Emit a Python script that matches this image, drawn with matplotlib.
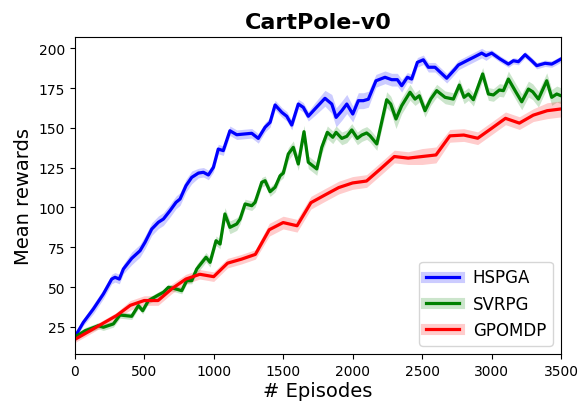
import numpy as np
import matplotlib
matplotlib.use("Agg")
from matplotlib import pyplot as plt
from matplotlib.lines import Line2D

# values
hspga_x = [0, 62, 134, 206, 266, 290, 321, 350, 410, 470, 506, 554, 602, 638, 686, 729, 758,
           801, 842, 890, 926, 962, 998, 1033, 1069, 1117, 1166, 1213, 1274, 1321, 1370, 1406,
           1442, 1490, 1526, 1562, 1609, 1645, 1681, 1729, 1801, 1850, 1881, 1922, 1958, 2001,
           2041, 2077, 2113, 2168, 2233, 2281, 2322, 2353, 2394, 2425, 2466, 2509, 2545, 2593,
           2677, 2737, 2761, 2821, 2869, 2929, 2960, 3001, 3061, 3121, 3157, 3193, 3241, 3289,
           3325, 3385, 3433, 3457, 3500]
hspga_y = [18.5, 27.8, 36.2, 45.6, 55.0, 56.1, 55.0, 61.3, 68.0, 72.8, 78.1, 86.4, 90.7, 92.7,
           98.0, 103.2, 105.3, 113.7, 118.9, 121.6, 122.1, 120.4, 125.2, 136.7, 135.7, 148.2,
           145.7, 146.1, 146.6, 143.4, 150.4, 153.5, 164.4, 159.8, 157.3, 151.8, 165.0, 162.9,
           157.3, 161.9, 168.6, 165.0, 156.6, 160.8, 165.0, 158.7, 167.1, 167.1, 168.0, 179.6,
           181.8, 180.3, 180.3, 176.5, 181.8, 180.7, 191.2, 192.8, 188.1, 188.1, 181.2, 187.0,
           189.5, 192.2, 194.3, 197.0, 195.4, 197.0, 193.3, 190.1, 192.2, 191.6, 196.0, 192.2,
           189.1, 190.6, 190.1, 191.2, 193.3]
hspga_sd = [2, 2, 3, 3, 3, 3, 3, 3, 4, 4, 4, 4, 4, 4, 4, 4, 4,
            4, 4, 3, 3, 3, 3, 3, 3, 3, 3, 3, 3, 3, 3, 3,
            3, 3, 3, 3, 3, 3, 3, 4, 5, 6, 6, 6, 6, 5,
            5, 5, 5, 4, 4, 4, 4, 4, 3, 3, 3, 3, 3, 3,
            3, 3, 3, 3, 3, 3, 3, 2, 2, 2, 2, 2, 2, 2,
            2, 2, 2, 2, 2]

svrpg_x = [0, 74, 170, 206, 278, 326, 410, 458, 489, 530, 602, 638, 674, 710, 770, 806, 842,
           878, 945, 974, 1017, 1046, 1081, 1117, 1166, 1190, 1226, 1274, 1298, 1346, 1370,
           1406, 1442, 1478, 1501, 1537, 1573, 1609, 1650, 1681, 1742, 1778, 1818, 1857, 1881,
           1922, 1958, 1994, 2034, 2066, 2101, 2125, 2174, 2245, 2274, 2312, 2353, 2413, 2449,
           2480, 2521, 2562, 2605, 2665, 2725, 2768, 2802, 2833, 2869, 2936, 2977, 3013, 3056,
           3085, 3121, 3176, 3217, 3265, 3296, 3337, 3397, 3433, 3469, 3500]
svrpg_y = [18.5, 22.5, 25.7, 24.7, 26.8, 32.4, 31.6, 38.3, 35.1, 41.4, 45.0, 46.7, 49.8, 49.2,
           47.7, 54.0, 54.0, 61.3, 68.7, 65.5, 79.1, 77.0, 95.9, 87.5, 89.6, 92.7, 102.2, 101.1,
           103.2, 115.8, 116.8, 109.9, 112.7, 119.9, 121.6, 133.6, 137.8, 127.3, 147.6, 128.4,
           124.2, 137.8, 147.2, 144.1, 147.2, 143.4, 144.7, 148.7, 143.4, 145.5, 146.8, 145.1,
           139.9, 167.7, 165.0, 155.6, 163.9, 172.4, 168.1, 170.2, 160.8, 168.1, 173.4, 169.2,
           168.1, 176.9, 169.2, 171.3, 167.7, 183.9, 171.3, 170.7, 173.8, 173.4, 180.7, 172.4,
           166.4, 174.4, 172.7, 168.1, 179.6, 169.2, 171.3, 170.2]
svrpg_sd = [1, 2, 2, 2, 2, 2, 2, 2, 2, 2, 2, 2, 2, 2, 2, 2, 2,
            3, 3, 3, 3, 3, 4, 4, 4, 3, 3, 3, 3, 3, 3,
            3, 3, 3, 3, 4, 4, 4, 4, 4, 4, 4, 4, 4, 4,
            4, 4, 4, 4, 4, 4, 4, 4, 5, 5, 6, 5, 5, 4,
            4, 4, 4, 4, 4, 4, 4, 4, 4, 4, 4, 4, 4, 4,
            4, 5, 5, 5, 5, 5, 5, 5, 5, 5, 5]

gpomdp_x = [0, 100, 200, 300, 400, 500, 600, 700, 800, 900, 1000, 1100, 1200, 1300, 1400, 1500,
            1600, 1700, 1800, 1900, 2000, 2100, 2200, 2300, 2400, 2500, 2600, 2700, 2800, 2900,
            3000, 3100, 3200, 3300, 3400, 3500]
gpomdp_y = [17.0, 22.0, 27.0, 32.0, 38.5, 41.5, 41.5, 49.0, 55.0, 58.0, 56.5, 65.0, 67.5, 70.5,
            86.0, 90.5, 88.5, 103.0, 107.8, 112.5, 115.4, 116.6, 124.2, 132.0, 131.0, 132.0,
            133.0, 145.0, 145.5, 143.5, 149.7, 156.0, 153.0, 158.0, 160.8, 161.9]
gpomdp_sd = [2, 2, 2, 2, 3, 3, 3, 3, 3, 3, 3, 3, 3, 3, 4, 4,
             4, 4, 4, 4, 4, 4, 4, 4, 4, 5, 5, 4, 4, 4,
             4, 4, 4, 4, 5, 5]

series = [("HSPGA", hspga_x, hspga_y, hspga_sd, "b"),
          ("SVRPG", svrpg_x, svrpg_y, svrpg_sd, "g"),
          ("GPOMDP", gpomdp_x, gpomdp_y, gpomdp_sd, "r")]

fig = plt.figure(figsize=(5.82, 4.02), dpi=100)
ax = fig.add_axes([0.1284, 0.1169, 0.8356, 0.7893])

handles = []
for name, x, y, sd, col in series:
	x = np.array(x)
	y = np.array(y)
	sd = np.array(sd)
	ax.fill_between(x, y - sd, y + sd, color=col, alpha=0.2, linewidth=0)
	ax.plot(x, y, color=col, linewidth=2.3)
	band = Line2D([], [], color=col, alpha=0.2, linewidth=8)
	line = Line2D([], [], color=col, linewidth=2.3)
	handles.append((band, line))

ax.set_xlim(0, 3500)
ax.set_ylim(7.9, 207.3)
ax.set_xticks([0, 500, 1000, 1500, 2000, 2500, 3000, 3500])
ax.set_yticks([25, 50, 75, 100, 125, 150, 175, 200])
ax.tick_params(labelsize=10)
ax.set_title("CartPole-v0", fontsize=16, fontweight="bold")
ax.set_xlabel("# Episodes", fontsize=14, labelpad=2)
ax.set_ylabel("Mean rewards", fontsize=14)
ax.legend(handles, [s[0] for s in series], loc="lower right", fontsize=12)

fig.savefig("out.png", dpi=100)
